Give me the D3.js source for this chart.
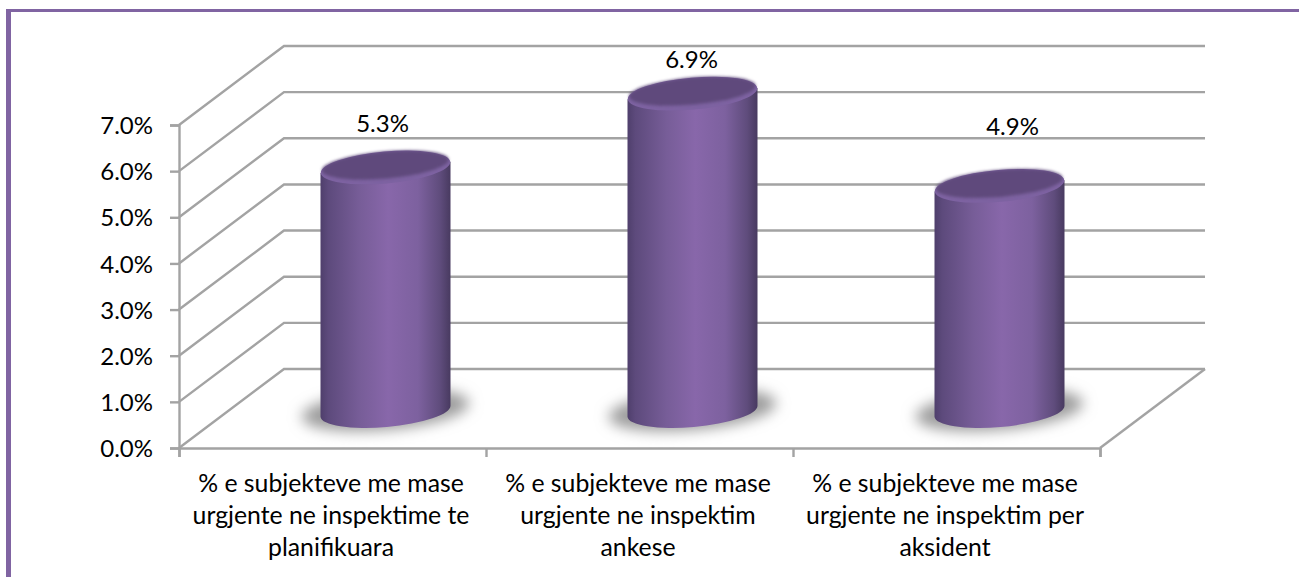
<!DOCTYPE html>
<html>
<head>
<meta charset="utf-8">
<script src="https://cdn.jsdelivr.net/npm/d3@7"></script>
<style>
body { margin:0; background:#fff; }
text { font-family:Lato, "Open Sans", sans-serif; fill:#000; }
</style>
</head>
<body>
<div id="graph"></div>
<script>
const width = 1299
const height = 577
const categories = [
	["% e subjekteve me mase","urgjente ne inspektime te","planifikuara"],
	["% e subjekteve me mase","urgjente ne inspektim","ankese"],
	["% e subjekteve me mase","urgjente ne inspektim per","aksident"]
]
const values = [5.3, 6.9, 4.9]
const tickValues = [0,1,2,3,4,5,6,7]

// depth of the fake 3d floor
const depthX = 105
const depthY = -79
const lineCol = "#a3a3a3"
const purple = "#8064a2"
const fontSize = "24px"
// hand placed data labels, they dont sit at a fixed distance from the bars
const labelNudgeX = [-3, -1, 13]
const labelNudgeY = [-35, -26, -51]

var svg = d3.select("div#graph").append("svg")
	.attr("width",width)
	.attr("height",height)
	.style("display","block")

var x = d3.scaleBand().domain(d3.range(categories.length)).range([179,1100])
var y = d3.scaleLinear().domain([0,7]).range([448,125])

// frame
svg.append("rect").attr("x",6).attr("y",9).attr("width",width-6).attr("height",3).attr("fill",purple)
svg.append("rect").attr("x",6).attr("y",9).attr("width",5).attr("height",height-9).attr("fill",purple)

var defs = svg.append("defs")
var side = defs.append("linearGradient").attr("id","side")
side.selectAll("stop").data([[0,"#4f3f6c"],[0.06,"#5d4a7c"],[0.3,"#775d98"],[0.52,"#8867aa"],[0.75,"#7d619f"],[0.92,"#5f4c7c"],[1,"#483a60"]])
	.enter().append("stop").attr("offset",d=>d[0]).attr("stop-color",d=>d[1])
defs.append("filter").attr("id","blur").attr("x","-30%").attr("y","-60%").attr("width","160%").attr("height","220%")
	.append("feGaussianBlur").attr("stdDeviation",7)
defs.append("filter").attr("id","soft").attr("x","-10%").attr("y","-20%").attr("width","120%").attr("height","140%")
	.append("feGaussianBlur").attr("stdDeviation",1.5)

// walls and grid
var grid = svg.append("g").attr("fill","none").attr("stroke",lineCol).attr("stroke-width",2.4)
grid.selectAll("path.g").data(tickValues).enter().append("path")
	.attr("class","g")
	.attr("d",d=>"M"+x.range()[0]+" "+y(d)+"l"+depthX+" "+depthY+"H"+(x.range()[1]+depthX))
grid.append("path").attr("d","M"+x.range()[1]+" "+y(0)+"l"+depthX+" "+depthY)

// axes
var axisY = d3.axisLeft(y).tickValues(tickValues).tickSize(9).tickPadding(17).tickFormat(d=>d.toFixed(1)+"%")
var gy = svg.append("g").attr("transform","translate(179,0)").call(axisY)
var axisX = d3.axisBottom(d3.scaleLinear().domain([0,3]).range(x.range())).tickValues([0,1,2,3]).tickSize(9).tickFormat("")
var gx = svg.append("g").attr("transform","translate(0,448)").call(axisX)
svg.selectAll(".domain, .tick line").attr("stroke",lineCol).attr("stroke-width",2.4)
gy.selectAll("text").style("font-size",fontSize).attr("fill","#000").attr("dy","0.36em")

// cylinders
const rx = 65, ry = 16, tilt = -5
const cx = i => x(i)+x.bandwidth()/2+53
const topY = v => y(v)-36
const baseY = y(0)-37
const dy = rx*Math.sin(-tilt*Math.PI/180)
var bars = svg.selectAll("g.bar").data(values).enter().append("g").attr("class","bar")
bars.append("ellipse")
	.attr("cx",(d,i)=>cx(i)).attr("cy",baseY-1)
	.attr("rx",rx+19).attr("ry",ry+4)
	.attr("transform",(d,i)=>"rotate("+tilt+" "+cx(i)+" "+baseY+")")
	.attr("fill","#9c9c9c").attr("filter","url(#blur)")
bars.append("path")
	.attr("fill","url(#side)")
	.attr("d",(d,i)=>"M"+(cx(i)-rx)+" "+(topY(d)+dy)
		+"V"+(baseY+dy)
		+"A"+rx+" "+ry+" "+tilt+" 0 0 "+(cx(i)+rx)+" "+(baseY-dy)
		+"V"+(topY(d)-dy)+"Z")
// top cap: light bevel with the darker face over it
bars.append("ellipse")
	.attr("cx",(d,i)=>cx(i)).attr("cy",d=>topY(d))
	.attr("rx",rx).attr("ry",ry)
	.attr("transform",(d,i)=>"rotate("+tilt+" "+cx(i)+" "+topY(d)+")")
	.attr("fill","#7d62a1")
bars.append("ellipse")
	.attr("cx",(d,i)=>cx(i)).attr("cy",d=>topY(d)-2.5)
	.attr("rx",rx-1.5).attr("ry",ry-2.5)
	.attr("transform",(d,i)=>"rotate("+tilt+" "+cx(i)+" "+topY(d)+")")
	.attr("fill","#5f4a7b").attr("filter","url(#soft)")

// value labels
bars.append("text")
	.attr("x",(d,i)=>cx(i)+labelNudgeX[i]).attr("y",(d,i)=>topY(d)+labelNudgeY[i])
	.attr("text-anchor","middle").style("font-size",fontSize)
	.text(d=>d.toFixed(1)+"%")

// category labels
var cats = svg.selectAll("text.cat").data(categories).enter().append("text")
	.attr("class","cat").attr("text-anchor","middle").style("font-size","24.8px")
cats.selectAll("tspan").data((d,i)=>d.map(t=>({t:t,i:i}))).enter().append("tspan")
	.attr("x",d=>x(d.i)+x.bandwidth()/2-1.5)
	.attr("y",(d,j)=>492+j*32)
	.text(d=>d.t)
</script>
</body>
</html>
